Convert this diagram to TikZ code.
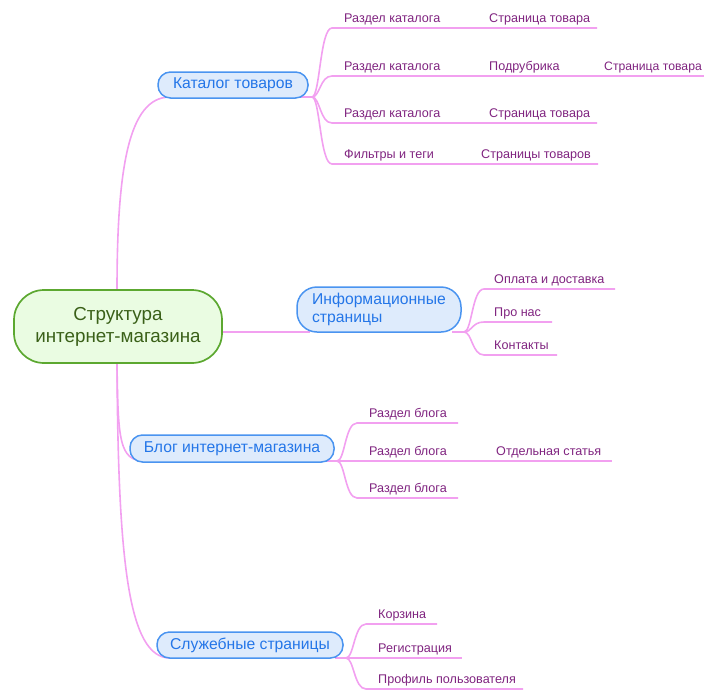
\documentclass[tikz,border=0pt]{standalone}
\usepackage{fontspec}
\setmainfont{Liberation Sans}
\usetikzlibrary{backgrounds}
\definecolor{pinkline}{RGB}{242,160,240}
\definecolor{leaftext}{RGB}{128,36,128}
\definecolor{bluetext}{RGB}{36,118,232}
\definecolor{blueborder}{RGB}{74,148,240}
\definecolor{bluefill}{RGB}{222,235,252}
\definecolor{greenborder}{RGB}{92,168,48}
\definecolor{greenfill}{RGB}{234,252,226}
\definecolor{greentext}{RGB}{58,96,24}
\begin{document}
\begin{tikzpicture}[x=1pt,y=-1pt,
  conn/.style={draw=pinkline,line width=1.6pt},
  rootbox/.style={draw=greenborder,fill=greenfill,line width=1.7pt,rounded corners=30pt,
    minimum width=208pt,minimum height=73pt,inner sep=0pt,align=center,
    text=greentext,font=\fontsize{18.8}{22}\selectfont},
  topicbox/.style={draw=blueborder,fill=bluefill,line width=1.5pt,rounded corners=12.5pt,
    minimum height=26pt,inner sep=0pt,text=bluetext,font=\fontsize{15.7}{18.5}\selectfont},
  leaf/.style={anchor=base west,inner sep=0pt,text=leaftext,font=\fontsize{12.6}{14}\selectfont}]
\useasboundingbox (0,0) rectangle (704,691);

% central node
\node[rootbox] (root) at (118,326.5) {Структура\\интернет-магазина};

% topic nodes
\node[topicbox,minimum width=150pt] (cat) at (233,85) {Каталог товаров};
\node[topicbox,minimum width=164pt,minimum height=45pt,rounded corners=20pt,align=left] (info) at (379,309.5) {Информационные\\страницы};
\node[topicbox,minimum width=204pt,minimum height=27pt] (blog) at (232,448.5) {Блог интернет-магазина};
\node[topicbox,minimum width=186pt] (serv) at (250,645) {Служебные страницы};

% trunk attachment points
\coordinate (rtop) at (117,291);
\coordinate (rbot) at (117,362);
\coordinate (rright) at (221,332);
\coordinate (catin) at (170,97);
\coordinate (infoin) at (310,332);
\coordinate (blogin) at (145,461);
\coordinate (servin) at (170,658);

% ---------- Catalog children ----------
\coordinate (catout) at (300,97);
\coordinate (c1s) at (332,28);  \coordinate (c1e) at (597,28);
\coordinate (c2s) at (332,76);  \coordinate (c2e) at (704,76);
\coordinate (c3s) at (332,123); \coordinate (c3e) at (597,123);
\coordinate (c4s) at (332,164); \coordinate (c4e) at (598,164);
\node[leaf] (c1) at (344,22) {Раздел каталога};
\node[leaf] (c1a) at (489,22) {Страница товара};
\node[leaf] (c2) at (344,70) {Раздел каталога};
\node[leaf] (c2a) at (489,70) {Подрубрика};
\node[leaf,font=\fontsize{12.2}{14}\selectfont] (c2b) at (604,70) {Страница товара};
\node[leaf] (c3) at (344,117) {Раздел каталога};
\node[leaf] (c3a) at (489,117) {Страница товара};
\node[leaf] (c4) at (344,158) {Фильтры и теги};
\node[leaf] (c4a) at (481,158) {Страницы товаров};

% ---------- Info children ----------
\coordinate (infoout) at (452,332);
\coordinate (i1s) at (484,289); \coordinate (i1e) at (615,289);
\coordinate (i2s) at (484,322); \coordinate (i2e) at (552,322);
\coordinate (i3s) at (484,355); \coordinate (i3e) at (557,355);
\node[leaf] (i1) at (494,283) {Оплата и доставка};
\node[leaf] (i2) at (494,316) {Про нас};
\node[leaf] (i3) at (494,349) {Контакты};

% ---------- Blog children ----------
\coordinate (blogout) at (325,461);
\coordinate (b1s) at (357,423); \coordinate (b1e) at (458,423);
\coordinate (b2e) at (612,461);
\coordinate (b3s) at (357,498); \coordinate (b3e) at (458,498);
\node[leaf] (b1) at (369,417) {Раздел блога};
\node[leaf] (b2) at (369,455) {Раздел блога};
\node[leaf] (b2a) at (496,455) {Отдельная статья};
\node[leaf] (b3) at (369,492) {Раздел блога};

% ---------- Service children ----------
\coordinate (servout) at (335,658);
\coordinate (s1s) at (366,624); \coordinate (s1e) at (437,624);
\coordinate (s2e) at (462,658);
\coordinate (s3s) at (366,689); \coordinate (s3e) at (523,689);
\node[leaf] (s1) at (378,618) {Корзина};
\node[leaf] (s2) at (378,652) {Регистрация};
\node[leaf] (s3) at (378,683) {Профиль пользователя};

\begin{scope}[on background layer]
\draw[conn] (rtop) .. controls (117,170) and (128,97) .. (catin);
\draw[conn] (rright) -- (infoin);
\draw[conn] (rbot) .. controls (118,440) and (119,461) .. (blogin);
\draw[conn] (rbot) .. controls (118,560) and (128,658) .. (servin);

\draw[conn] (catout) -- (312,97) .. controls (320,97) and (320,28) .. (c1s) -- (c1e);
\draw[conn] (catout) -- (312,97) .. controls (320,97) and (320,76) .. (c2s) -- (c2e);
\draw[conn] (catout) -- (312,97) .. controls (320,97) and (320,123) .. (c3s) -- (c3e);
\draw[conn] (catout) -- (312,97) .. controls (320,97) and (320,164) .. (c4s) -- (c4e);

\draw[conn] (infoout) -- (464,332) .. controls (472,332) and (472,289) .. (i1s) -- (i1e);
\draw[conn] (infoout) -- (464,332) .. controls (472,332) and (472,322) .. (i2s) -- (i2e);
\draw[conn] (infoout) -- (464,332) .. controls (472,332) and (472,355) .. (i3s) -- (i3e);

\draw[conn] (blogout) -- (337,461) .. controls (345,461) and (345,423) .. (b1s) -- (b1e);
\draw[conn] (blogout) -- (b2e);
\draw[conn] (blogout) -- (337,461) .. controls (345,461) and (345,498) .. (b3s) -- (b3e);

\draw[conn] (servout) -- (346,658) .. controls (354,658) and (354,624) .. (s1s) -- (s1e);
\draw[conn] (servout) -- (s2e);
\draw[conn] (servout) -- (346,658) .. controls (354,658) and (354,689) .. (s3s) -- (s3e);
\end{scope}
\end{tikzpicture}
\end{document}
